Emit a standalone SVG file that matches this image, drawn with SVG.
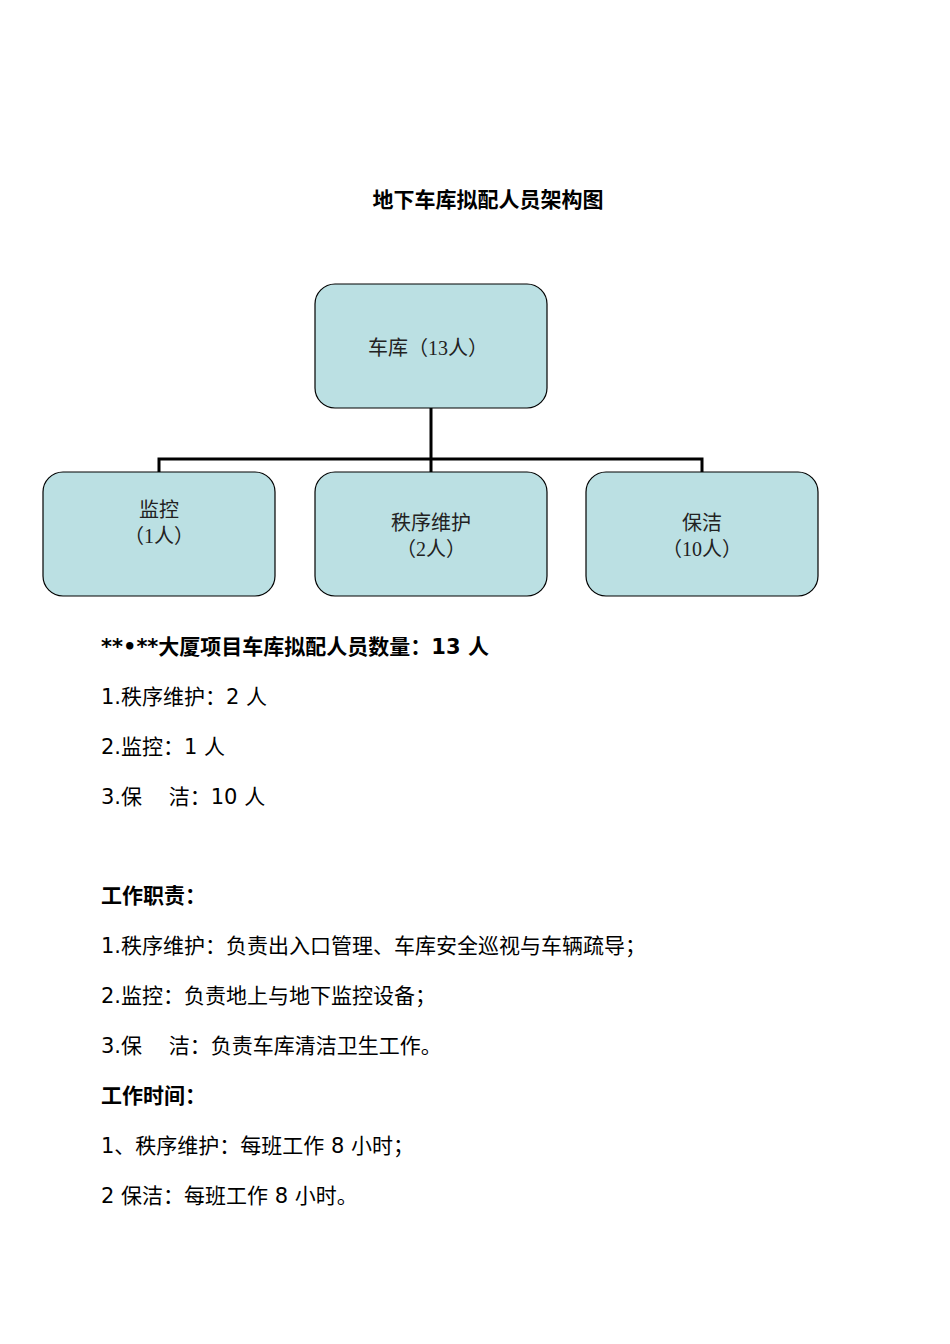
<svg xmlns="http://www.w3.org/2000/svg" width="950" height="1344" viewBox="0 0 950 1344">
<style>
.box{fill:#bbe0e3;stroke:#000;stroke-width:1.2}
.nt{font-family:"Liberation Serif","Noto Sans CJK SC",serif;font-size:20px;fill:#222;text-anchor:middle}
.bt{font-family:"DejaVu Sans","Noto Sans CJK SC",sans-serif;font-size:21px;fill:#000}
.b{font-weight:bold}
.con{fill:none;stroke:#000;stroke-width:3}
</style>
<rect width="950" height="1344" fill="#fff"/>
<text x="488" y="207" class="bt b" text-anchor="middle">地下车库拟配人员架构图</text>
<g id="connectors">
<path class="con" d="M431 408V459M159 472V459H702V472M431 459V472"/>
</g>
<g id="n0"><rect class="box" x="315" y="284" width="232" height="124" rx="20"/><text class="nt" x="428" y="355">车库（13人）</text></g>
<g id="n1"><rect class="box" x="43" y="472" width="232" height="124" rx="20"/><text class="nt" x="159" y="517">监控</text><text class="nt" x="159" y="543">（1人）</text></g>
<g id="n2"><rect class="box" x="315" y="472" width="232" height="124" rx="20"/><text class="nt" x="431" y="530">秩序维护</text><text class="nt" x="431" y="556">（2人）</text></g>
<g id="n3"><rect class="box" x="586" y="472" width="232" height="124" rx="20"/><text class="nt" x="702" y="530">保洁</text><text class="nt" x="702" y="556">（10人）</text></g>
<g id="text">
<text class="bt b" x="101" y="654">**•**大厦项目车库拟配人员数量：13 人</text>
<text class="bt" x="101" y="704">1.秩序维护：2 人</text>
<text class="bt" x="101" y="754">2.监控：1 人</text>
<text class="bt" x="101" y="804" xml:space="preserve">3.保    洁：10 人</text>
<text class="bt b" x="101" y="903">工作职责：</text>
<text class="bt" x="101" y="953">1.秩序维护：负责出入口管理、车库安全巡视与车辆疏导；</text>
<text class="bt" x="101" y="1003">2.监控：负责地上与地下监控设备；</text>
<text class="bt" x="101" y="1053" xml:space="preserve">3.保    洁：负责车库清洁卫生工作。</text>
<text class="bt b" x="101" y="1103">工作时间：</text>
<text class="bt" x="101" y="1153">1、秩序维护：每班工作 8 小时；</text>
<text class="bt" x="101" y="1203">2 保洁：每班工作 8 小时。</text>
</g>
</svg>
